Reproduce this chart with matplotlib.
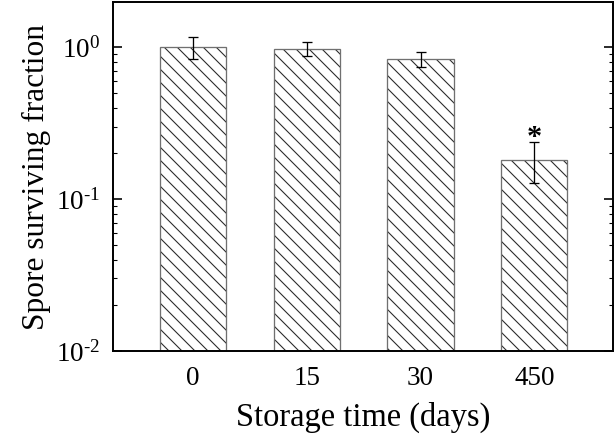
import numpy as np
import matplotlib
matplotlib.use("Agg")
import matplotlib.pyplot as plt

# ── Data ─────────────────────────────────────────────────────────────────────
STORAGE_DAYS = ["0", "15", "30", "450"]
SURVIVAL     = [1.00, 0.975, 0.83, 0.181]
ERR_UPPER    = [1.16, 1.08, 0.93, 0.236]   # top of error bar
ERR_LOWER    = [0.84, 0.873, 0.736, 0.128]  # bottom of error bar
SIGNIFICANT  = [False, False, False, True]
Y_TICKS      = [0.01, 0.1, 1]
Y_TICKLABELS = [r"$10^{\text{-}2}$", r"$10^{\text{-}1}$", r"$10^{0}$"]

# ── Style ────────────────────────────────────────────────────────────────────
DPI = 78
plt.rcParams["font.family"] = ["Liberation Serif", "DejaVu Serif"]
plt.rcParams["mathtext.fontset"] = "custom"
plt.rcParams["mathtext.rm"] = "Liberation Serif"
plt.rcParams["mathtext.default"] = "regular"
plt.rcParams["hatch.linewidth"] = 1.0

fig = plt.figure(figsize=(615 / DPI, 446 / DPI), dpi=DPI)
ax = fig.add_axes([113 / 615, 1 - 351 / 446, 500 / 615, 349 / 446])

x = np.arange(len(STORAGE_DAYS))
surv = np.array(SURVIVAL)
yerr = np.array([surv - np.array(ERR_LOWER), np.array(ERR_UPPER) - surv])

# hatch (dark) and outline (grey) drawn separately
ax.bar(x, surv, width=0.58, bottom=1e-3, color="white", edgecolor="#2a2a2a",
       linewidth=0, hatch="\\\\")
ax.bar(x, surv, width=0.58, bottom=1e-3, fill=False, edgecolor="#707070",
       linewidth=1.2)
ax.errorbar(x, surv, yerr=yerr, fmt="none", ecolor="black",
            elinewidth=1.2, capsize=5, capthick=1.2)

for xi, top, sig in zip(x, ERR_UPPER, SIGNIFICANT):
    if sig:
        ax.text(xi, top * 0.96, "*", ha="center", va="baseline",
                fontsize=28, fontweight="bold")

ax.set_yscale("log")
ax.set_ylim(0.01, 1.98)
ax.set_xlim(-0.70, 3.69)
ax.set_yticks(Y_TICKS)
ax.set_yticklabels(Y_TICKLABELS)
ax.set_xticks(x, STORAGE_DAYS)

ax.tick_params(axis="y", which="major", direction="in", length=8, width=1.5,
               right=True, labelsize=25, pad=12)
ax.tick_params(axis="y", which="minor", direction="in", length=4, width=1.0,
               right=True)
ax.tick_params(axis="x", length=0, labelsize=25, pad=14)

for sp in ax.spines.values():
    sp.set_linewidth(1.8)

ax.set_xlabel("Storage time (days)", fontsize=30, labelpad=10)
ax.set_ylabel("Spore surviving fraction", fontsize=29, labelpad=4)

fig.savefig("out.png", dpi=DPI)
